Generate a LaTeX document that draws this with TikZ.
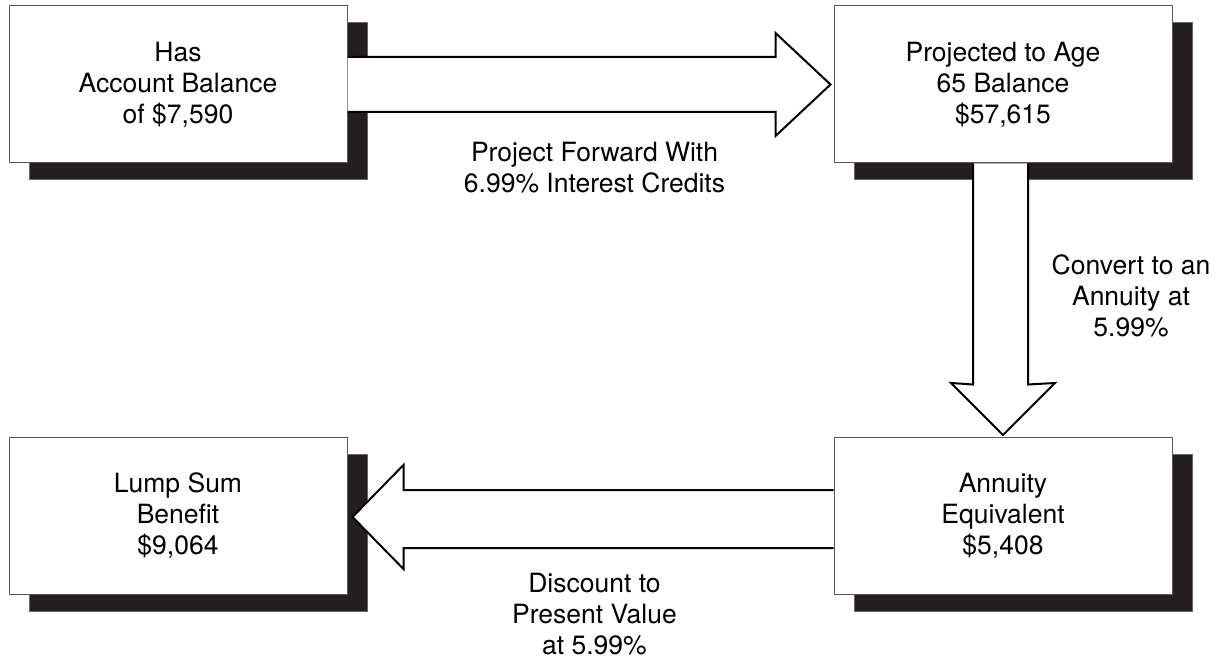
\documentclass[tikz,border=0pt]{standalone}
\usepackage{fontspec}
\setmainfont{TeX Gyre Heros}
\usetikzlibrary{calc,shadows}
\definecolor{shadowc}{HTML}{231F20}
\begin{document}
\begin{tikzpicture}[x=1pt,y=-1pt,
  box/.style={draw=black!65, line width=1pt, fill=white, minimum width=338pt, minimum height=157pt,
    inner sep=0pt, align=center, font={\fontsize{26.5}{31}\selectfont},
    general shadow={fill=shadowc, draw=black!60, line width=1pt, shadow xshift=20pt, shadow yshift=-17pt}},
  fatarrow/.style={fill=white, draw=black, line width=2pt, line join=miter},
  lbl/.style={inner sep=0pt, align=center, font={\fontsize{26.5}{31}\selectfont}}]
\useasboundingbox (0,0) rectangle (1219,660);

\node[box] (b1) at (178,84.5) {Has\\Account Balance\\of \$7,590};
\node[box] (b2) at (1003,84.5) {Projected to Age\\65 Balance\\\$57,615};
\node[box] (b3) at (178,515.5) {Lump Sum\\Benefit\\\$9,064};
\node[box] (b4) at (1003,516) {Annuity\\Equivalent\\\$5,408};

% arrow 1: b1 -> b2
\coordinate (a1s) at (b1.east);
\coordinate (a1t) at ([xshift=-3pt]b2.west);
\path[fatarrow] ($(a1s)+(0,-27.5)$) -- ($(a1t)+(-55,-27.5)$) -- ($(a1t)+(-55,-51.5)$) -- (a1t)
  -- ($(a1t)+(-55,51.5)$) -- ($(a1t)+(-55,27.5)$) -- ($(a1s)+(0,27.5)$);

% arrow 2: b2 -> b4
\coordinate (a2s) at ([xshift=-2.5pt]b2.south);
\coordinate (a2t) at ([yshift=2pt]b4.north);
\path[fatarrow] ($(a2s)+(-27.5,0)$) -- ($(a2s)+(-27.5,0)+(0,221)$) -- ($(a2t)+(-52,-52)$) -- (a2t)
  -- ($(a2t)+(52,-52)$) -- ($(a2s)+(27.5,0)+(0,221)$) -- ($(a2s)+(27.5,0)$);

% arrow 3: b4 -> b3
\coordinate (a3s) at ([yshift=-3pt]b4.west);
\coordinate (a3t) at ([xshift=5pt,yshift=-1.5pt]b3.east);
\path[fatarrow] ($(a3s)+(0,-29)$) -- ($(a3t)+(51,-27)$) -- ($(a3t)+(51,-52)$) -- (a3t)
  -- ($(a3t)+(51,52)$) -- ($(a3t)+(51,31)$) -- ($(a3s)+(0,29)$);

\node[lbl] (l1) at (594.5,168) {Project Forward With\\6.99\% Interest Credits};
\node[lbl] (l2) at (1131,296) {Convert to an\\Annuity at\\5.99\%};
\node[lbl] (l3) at (594.5,614) {Discount to\\Present Value\\at 5.99\%};
\end{tikzpicture}
\end{document}
